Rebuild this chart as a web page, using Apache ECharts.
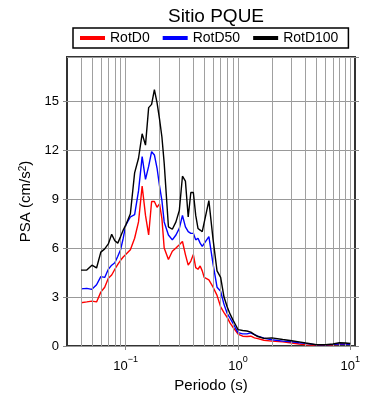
<!DOCTYPE html>
<html>
<head>
<meta charset="utf-8">
<script src="https://cdn.jsdelivr.net/npm/echarts@6/dist/echarts.min.js"></script>
<style>
html,body{margin:0;padding:0;background:#fff;}
#chart{width:390px;height:400px;}
</style>
</head>
<body>
<div id="chart"></div>
<script>
var periods = [0.04,0.045,0.05,0.055,0.06,0.065,0.07,0.075,0.08,0.085,0.09,0.095,0.1,0.11,0.12,0.13,0.14,0.15,0.16,0.17,0.18,0.19,0.2,0.21,0.22,0.24,0.26,0.28,0.3,0.32,0.34,0.36,0.38,0.4,0.42,0.44,0.46,0.48,0.5,0.55,0.6,0.65,0.7,0.75,0.8,0.85,0.9,0.95,1.0,1.1,1.2,1.3,1.4,1.5,1.7,2.0,2.5,3.0,3.5,4.0,5.0,6.0,7.0,8.0,9.0,10];

var rotD0 = [2.65,2.7,2.75,2.7,3.3,3.6,4.15,4.35,4.7,5.0,5.25,5.45,5.6,5.9,6.6,7.6,9.8,8.0,6.8,8.85,8.85,8.5,8.7,7.8,6.0,5.3,5.8,6.0,6.2,6.4,5.6,4.95,5.2,5.6,4.8,4.7,4.9,4.6,4.2,4.05,3.6,3.1,2.4,2.05,1.75,1.4,1.15,0.95,0.73,0.6,0.58,0.6,0.5,0.45,0.35,0.3,0.25,0.18,0.12,0.07,0.04,0.06,0.08,0.1,0.1,0.1];

var rotD50 = [3.5,3.53,3.47,3.75,4.25,4.2,4.7,4.95,5.1,5.5,5.9,6.6,7.4,7.9,8.05,9.5,11.6,10.2,11.0,11.9,11.7,10.9,9.8,8.9,7.6,6.8,6.5,6.8,7.2,8.0,7.3,7.0,6.9,6.9,6.5,6.6,6.3,6.1,6.2,6.7,5.0,3.6,3.35,2.55,2.0,1.7,1.4,1.1,0.82,0.74,0.74,0.8,0.7,0.6,0.48,0.38,0.3,0.26,0.2,0.16,0.07,0.08,0.1,0.12,0.12,0.11];

var rotD100 = [4.65,4.65,4.95,4.78,5.75,5.95,6.25,6.84,6.45,6.3,6.7,7.1,7.4,8.1,10.6,11.5,13.0,12.3,14.6,14.8,15.7,14.9,13.9,12.8,11.2,7.3,7.15,7.6,8.3,10.4,10.1,7.9,9.4,9.4,8.0,7.2,7.1,7.0,7.0,8.9,6.5,4.6,4.2,3.0,2.4,1.95,1.6,1.3,1.0,0.95,0.92,0.85,0.7,0.58,0.47,0.5,0.4,0.32,0.25,0.18,0.08,0.08,0.12,0.2,0.18,0.15];

var gridPeriods = [0.04,0.05,0.06,0.07,0.08,0.09,0.1,0.2,0.3,0.4,0.5,0.6,0.7,0.8,0.9,1,2,3,4,5,6,7,8,9,10];
var seriesNames = ['RotD0','RotD50','RotD100'];
var seriesColors = ['#ff0000','#0000ff','#000000'];
var yTicks = [0,3,6,9,12,15];

function pairs(vals){ return periods.map(function(p,i){ return [p, vals[i]]; }); }

var chart = echarts.init(document.getElementById('chart'));
var FONT = 'Liberation Sans, Arial, Helvetica, sans-serif';

function xFormatter(v){
  var l = Math.log10(v);
  var r = Math.round(l);
  if (Math.abs(l - r) > 1e-6) return '';
  var e = r < 0 ? '\u2212' + (-r) : '' + r;
  return '{b|10}{s|' + e + '}';
}

var option = {
  animation: false,
  backgroundColor: '#fff',
  textStyle: {fontFamily: FONT},
  title: {
    text: 'Sitio PQUE',
    left: 211, top: 2, textAlign: 'center',
    textStyle: {fontSize: 19, fontWeight: 'normal', color: '#000', fontFamily: FONT}
  },
  legend: {
    left: 73, top: 28,
    data: seriesNames,
    icon: 'rect', itemWidth: 25, itemHeight: 4, itemGap: 13,
    borderColor: '#000', borderWidth: 1.5,
    padding: [3, 10, 3, 7],
    textStyle: {fontSize: 14, color: '#000', fontFamily: FONT}
  },
  grid: {
    left: 67, right: 35, top: 57, bottom: 54,
    show: true, borderColor: '#333', borderWidth: 2, backgroundColor: 'transparent'
  },
  xAxis: {
    type: 'log', logBase: 10, min: 0.03, max: 11,
    name: 'Periodo (s)', nameLocation: 'middle', nameGap: 26,
    nameTextStyle: {fontSize: 15, color: '#000', fontFamily: FONT},
    axisLine: {show: false},
    axisTick: {show: true, length: 4, lineStyle: {color: '#888'}},
    splitLine: {show: false},
    axisLabel: {
      showMinLabel: false, showMaxLabel: false, margin: 9,
      formatter: xFormatter,
      rich: {
        b: {fontSize: 13, color: '#000', fontFamily: FONT, verticalAlign: 'bottom', lineHeight: 18},
        s: {fontSize: 9, color: '#000', fontFamily: FONT, verticalAlign: 'top', lineHeight: 18}
      }
    }
  },
  yAxis: [{
    type: 'value', min: 0, max: 17.7, interval: 3,
    name: 'PSA (cm/s{s|2})', nameLocation: 'middle', nameGap: 25,
    nameTextStyle: {fontSize: 15, color: '#000', fontFamily: FONT,
      rich: {s: {fontSize: 10, verticalAlign: 'top', fontFamily: FONT, color: '#000'}}},
    axisLine: {show: false},
    axisTick: {show: true, length: 4, lineStyle: {color: '#888'}},
    splitLine: {show: true, lineStyle: {color: '#999', width: 1}},
    axisLabel: {showMaxLabel: false, fontSize: 13, color: '#000', margin: 8, fontFamily: FONT}
  }, {
    type: 'value', min: 0, max: 17.7, interval: 3, position: 'right',
    axisLine: {show: false},
    axisTick: {show: true, length: 4, lineStyle: {color: '#888'}},
    splitLine: {show: false},
    axisLabel: {show: false}
  }],
  series: [{
    name: 'grid', type: 'line', data: [], silent: true, z: 1,
    markLine: {
      silent: true, symbol: 'none', animation: false,
      label: {show: false},
      lineStyle: {color: '#a0a0a0', width: 1, type: 'solid'},
      data: gridPeriods.map(function(p){ return {xAxis: p}; })
    }
  }].concat(seriesNames.map(function(n, i){
    return {
      name: n, type: 'line', data: pairs([rotD0, rotD50, rotD100][i]),
      showSymbol: false, symbol: 'none', z: 3 + i,
      lineStyle: {color: seriesColors[i], width: 1.4},
      itemStyle: {color: seriesColors[i]}
    };
  }))
};
chart.setOption(option);
</script>
</body>
</html>
